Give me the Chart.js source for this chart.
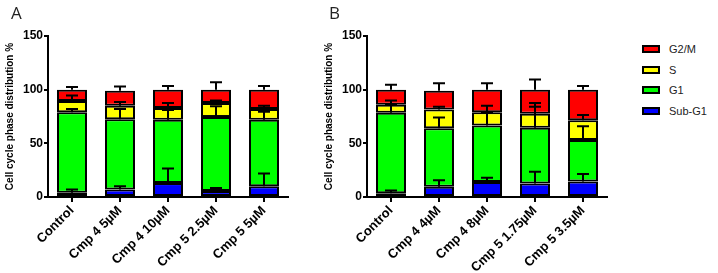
<!DOCTYPE html>
<html>
<head>
<meta charset="utf-8">
<script src="https://cdn.jsdelivr.net/npm/chart.js@4.4.0/dist/chart.umd.min.js"></script>
<style>
  body { margin: 0; background: #fff; width: 718px; height: 273px; overflow: hidden; position: relative; font-family: "Liberation Sans", Arial, sans-serif; }
  .panel { position: absolute; top: 0; width: 300px; height: 273px; }
  #wrapA { left: 0; }
  #wrapB { left: 319px; }
  .tag { position: absolute; top: 1px; font-family: "Open Sans", sans-serif; font-size: 17px; color: #222; }
  #legend { position: absolute; left: 642px; top: 38.5px; }
  .item { height: 20.7px; display: flex; align-items: center; font-size: 11px; color: #222; }
  .box { width: 14px; height: 4px; border: 2px solid #000; margin-right: 9px; }
</style>
</head>
<body>
<div class="panel" id="wrapA"><canvas id="chartA" width="300" height="273"></canvas></div>
<div class="panel" id="wrapB"><canvas id="chartB" width="300" height="273"></canvas></div>
<div class="tag" style="left:11px">A</div>
<div class="tag" style="left:329px">B</div>
<div id="legend"></div>

<script>
// categorias
const categoriesA = ['Control', 'Cmp 4 5µM', 'Cmp 4 10µM', 'Cmp 5 2.5µM', 'Cmp 5 5µM'];
const categoriesB = ['Control', 'Cmp 4 4µM', 'Cmp 4 8µM', 'Cmp 5 1.75µM', 'Cmp 5 3.5µM'];
const phases = ['Sub-G1', 'G1', 'S', 'G2/M'];
const phaseColors = ['#0000ff', '#00ff00', '#ffff00', '#ff0000'];
const yTicks = [0, 50, 100, 150];

// Panel A - media (%) por fase
const subG1A = [4, 7, 13, 5.5, 10];
const g1A    = [75, 65.5, 59, 69, 62];
const sA     = [10.5, 12.5, 11, 13, 10];
const g2mA   = [10.5, 14, 17, 12.5, 18];
// Panel A - desviacion
const subG1SdA = [3, 3, 13.5, 3, 12];
const g1SdA    = [3, 9.5, 9, 10, 7.5];
const sSdA     = [5, 3.5, 4.5, 2.5, 3];
const g2mSdA   = [2.5, 4, 3.5, 7, 3.5];

// Panel B - media (%) por fase
const subG1B = [3.5, 9.5, 14, 12.5, 14.5];
const g1B    = [75, 54.5, 52.5, 52, 38.5];
const sB     = [7.5, 17.5, 12.5, 13, 18.5];
const g2mB   = [14, 17.5, 21, 22.5, 28.5];
// Panel B - desviacion
const subG1SdB = [2.5, 6, 4, 11, 7];
const g1SdB    = [8, 10, 12.5, 19.5, 13];
const sSdB     = [4, 2.5, 6, 10, 5];
const g2mSdB   = [4.5, 7, 6, 9.5, 3.5];

// barras de error: desde el tope de cada segmento hacia arriba
const errorBars = {
  id: 'errorBars',
  afterDatasetsDraw(chart) {
    const ctx = chart.ctx;
    const y = chart.scales.y;
    const sds = chart.options.plugins.errorBars.sds;
    ctx.save();
    ctx.strokeStyle = '#000';
    ctx.lineWidth = 2;
    chart.data.datasets.forEach((ds, i) => {
      const meta = chart.getDatasetMeta(i);
      ds.data.forEach((v, j) => {
        let top = 0;
        for (let k = 0; k <= i; k++) top += chart.data.datasets[k].data[j];
        const x = meta.data[j].x;
        const y1 = y.getPixelForValue(top);
        const y2 = y.getPixelForValue(top + sds[i][j]);
        ctx.beginPath();
        ctx.moveTo(x, y1);
        ctx.lineTo(x, y2);
        ctx.moveTo(x - 6, y2);
        ctx.lineTo(x + 6, y2);
        ctx.stroke();
      });
    });
    ctx.restore();
  }
};

function makeChart(id, labels, series, sds) {
  new Chart(document.getElementById(id), {
    type: 'bar',
    data: {
      labels: labels,
      datasets: series.map((d, i) => ({
        label: phases[i],
        data: d,
        backgroundColor: phaseColors[i],
        borderColor: '#000',
        borderWidth: 2,
        borderSkipped: false,
        barPercentage: 0.625,
        categoryPercentage: 1
      }))
    },
    options: {
      responsive: false,
      animation: false,
      layout: { padding: { top: 36, right: 12, left: 0, bottom: 0 } },
      plugins: {
        legend: { display: false },
        tooltip: { enabled: false },
        errorBars: { sds: sds }
      },
      scales: {
        x: {
          stacked: true,
          grid: { offset: false, drawOnChartArea: false, tickLength: 5, color: '#000', lineWidth: 2 },
          border: { color: '#000', width: 2 },
          ticks: {
            color: '#000', padding: 1, minRotation: 45, maxRotation: 45,
            font: { family: 'Liberation Sans', size: 13, weight: 'bold' }
          },
          afterFit(s) { s.height = 76; s.paddingLeft = 0; s.paddingRight = 0; }
        },
        y: {
          stacked: true,
          min: yTicks[0],
          max: yTicks[yTicks.length - 1],
          afterBuildTicks(s) { s.ticks = yTicks.map(v => ({ value: v })); },
          grid: { drawOnChartArea: false, tickLength: 4, color: '#000', lineWidth: 2 },
          border: { color: '#000', width: 2 },
          ticks: { color: '#000', padding: 1, font: { family: 'Liberation Sans', size: 12, weight: 'bold' } },
          title: {
            display: true, text: 'Cell cycle phase distribution %', color: '#000',
            font: { family: 'Liberation Sans', size: 10, weight: 'bold' },
            padding: { top: 4, bottom: 0 }
          },
          afterFit(s) { s.width = 48; }
        }
      }
    },
    plugins: [errorBars]
  });
}

makeChart('chartA', categoriesA, [subG1A, g1A, sA, g2mA], [subG1SdA, g1SdA, sSdA, g2mSdA]);
makeChart('chartB', categoriesB, [subG1B, g1B, sB, g2mB], [subG1SdB, g1SdB, sSdB, g2mSdB]);

// leyenda (de arriba hacia abajo: G2/M primero)
const legend = document.getElementById('legend');
for (let i = phases.length - 1; i >= 0; i--) {
  const row = document.createElement('div');
  row.className = 'item';
  row.innerHTML = '<span class="box" style="background:' + phaseColors[i] + '"></span>' + phases[i];
  legend.appendChild(row);
}
</script>
</body>
</html>
